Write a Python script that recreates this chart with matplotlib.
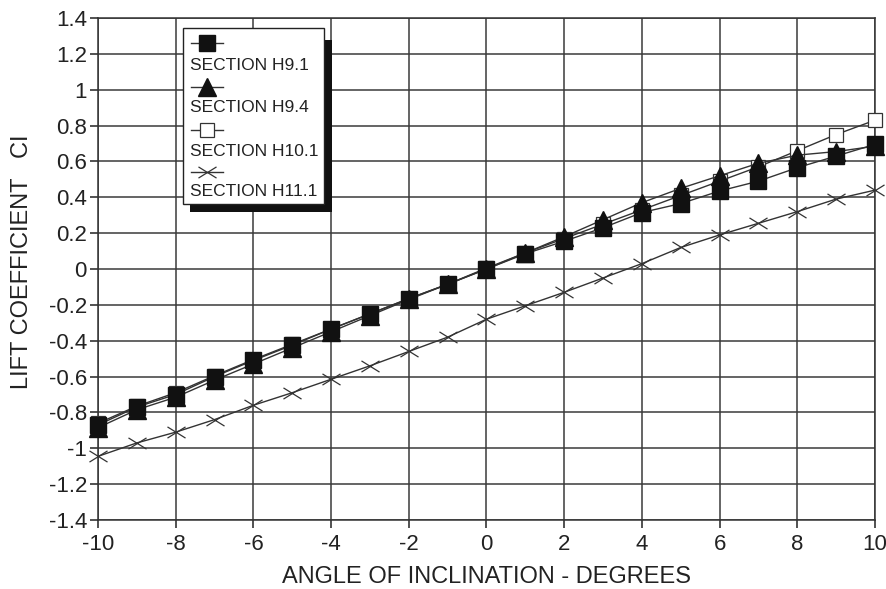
import matplotlib
matplotlib.use("Agg")
import matplotlib.pyplot as plt
from matplotlib.lines import Line2D
from matplotlib.patches import Rectangle
from matplotlib.path import Path

plt.rcParams['font.family'] = ['Liberation Sans', 'DejaVu Sans']

angles = list(range(-10, 11))
h9_1 = [-0.87, -0.77, -0.70, -0.60, -0.51, -0.425, -0.335, -0.25, -0.165, -0.085, 0.0,
        0.085, 0.155, 0.23, 0.315, 0.365, 0.435, 0.49, 0.565, 0.63, 0.695]
h9_4 = [-0.885, -0.785, -0.715, -0.62, -0.53, -0.44, -0.35, -0.26, -0.17, -0.085, 0.0,
        0.09, 0.18, 0.275, 0.37, 0.45, 0.52, 0.59, 0.635, 0.655, 0.685]
h10_1 = [-0.86, -0.765, -0.69, -0.595, -0.505, -0.42, -0.335, -0.25, -0.165, -0.085, 0.005,
         0.09, 0.17, 0.25, 0.33, 0.41, 0.49, 0.57, 0.66, 0.75, 0.83]
h11_1 = [-1.045, -0.97, -0.91, -0.84, -0.76, -0.69, -0.615, -0.54, -0.46, -0.38, -0.28,
         -0.205, -0.13, -0.05, 0.03, 0.12, 0.19, 0.255, 0.32, 0.39, 0.44]

labels = ["SECTION H9.1", "SECTION H9.4", "SECTION H10.1", "SECTION H11.1"]
xticks = [-10, -8, -6, -4, -2, 0, 2, 4, 6, 8, 10]
yticks = [-1.4, -1.2, -1, -0.8, -0.6, -0.4, -0.2, 0, 0.2, 0.4, 0.6, 0.8, 1, 1.2, 1.4]
ytick_labels = ["-1.4", "-1.2", "-1", "-0.8", "-0.6", "-0.4", "-0.2", "0",
                "0.2", "0.4", "0.6", "0.8", "1", "1.2", "1.4"]

W, H = 887, 589
fig = plt.figure(figsize=(W / 100, H / 100), dpi=100)
L, R, T, B = 98, 875, 18, 520
ax = fig.add_axes([L / W, 1 - B / H, (R - L) / W, (B - T) / H])

flat_x = Path([(-1, -0.62), (1, 0.62), (-1, 0.62), (1, -0.62)],
              [Path.MOVETO, Path.LINETO, Path.MOVETO, Path.LINETO])

styles = [
    dict(marker='s', ms=11, mfc='#111111', mec='#111111'),
    dict(marker='^', ms=13, mfc='#111111', mec='#111111'),
    dict(marker='s', ms=10, mfc='white', mec='#333333', mew=0.9),
    dict(marker=flat_x, ms=13, mec='#333333', mew=0.9),
]
series = [h9_1, h9_4, h10_1, h11_1]
zorders = [8, 7, 6, 5]
for i in [3, 2, 1, 0]:
    ax.plot(angles, series[i], color='#333333', lw=1.0, clip_on=False,
            zorder=zorders[i], **styles[i])

ax.set_xlim(-10, 10)
ax.set_ylim(-1.4, 1.4)
ax.set_xticks(xticks)
ax.set_xticklabels([str(t) for t in xticks])
ax.set_yticks(yticks)
ax.set_yticklabels(ytick_labels)
ax.grid(True, color='#3a3a3a', lw=1.1)
ax.set_axisbelow(True)
for s in ax.spines.values():
    s.set_color('#333333')
    s.set_linewidth(1.1)
ax.tick_params(axis='both', labelsize=16, colors='#222222', length=6, width=1.1,
               direction='out')
ax.tick_params(axis='x', pad=4)
ax.tick_params(axis='y', pad=2)
ax.set_xlabel("ANGLE OF INCLINATION - DEGREES", fontsize=17, color='#222222')
ax.xaxis.set_label_coords(0.5, (B - 577) / (B - T), transform=ax.transAxes)
ax.xaxis.label.set_va('center')
ax.set_ylabel("LIFT COEFFICIENT   CI", fontsize=17, color='#222222')
ax.yaxis.set_label_coords((22 - L) / (R - L), (B - 262) / (B - T), transform=ax.transAxes)
ax.yaxis.label.set_va('center')


def fx(px):
    return px / W


def fy(py):
    return 1 - py / H


shadow = Rectangle((fx(190), fy(212)), fx(332) - fx(190), fy(40) - fy(212),
                   transform=fig.transFigure, facecolor='#111111', edgecolor='none', zorder=10)
box = Rectangle((fx(183), fy(204)), fx(324) - fx(183), fy(28) - fy(204),
                transform=fig.transFigure, facecolor='white', edgecolor='#222222',
                lw=1.0, zorder=11)
fig.patches.extend([shadow, box])
marker_y = [43, 87, 130, 172]
text_y = [65, 107, 151, 192]
for i in range(4):
    ln = Line2D([fx(191), fx(223)], [fy(marker_y[i])] * 2, transform=fig.transFigure,
                color='#333333', lw=1.0, zorder=12)
    fig.lines.append(ln)
    mk = Line2D([fx(207)], [fy(marker_y[i])], transform=fig.transFigure, ls='none',
                zorder=13, **styles[i])
    fig.lines.append(mk)
    fig.text(fx(190), fy(text_y[i]), labels[i], fontsize=12.5, color='#222222',
             va='center', ha='left', zorder=13)

fig.savefig("out.png", dpi=100, facecolor='white')
